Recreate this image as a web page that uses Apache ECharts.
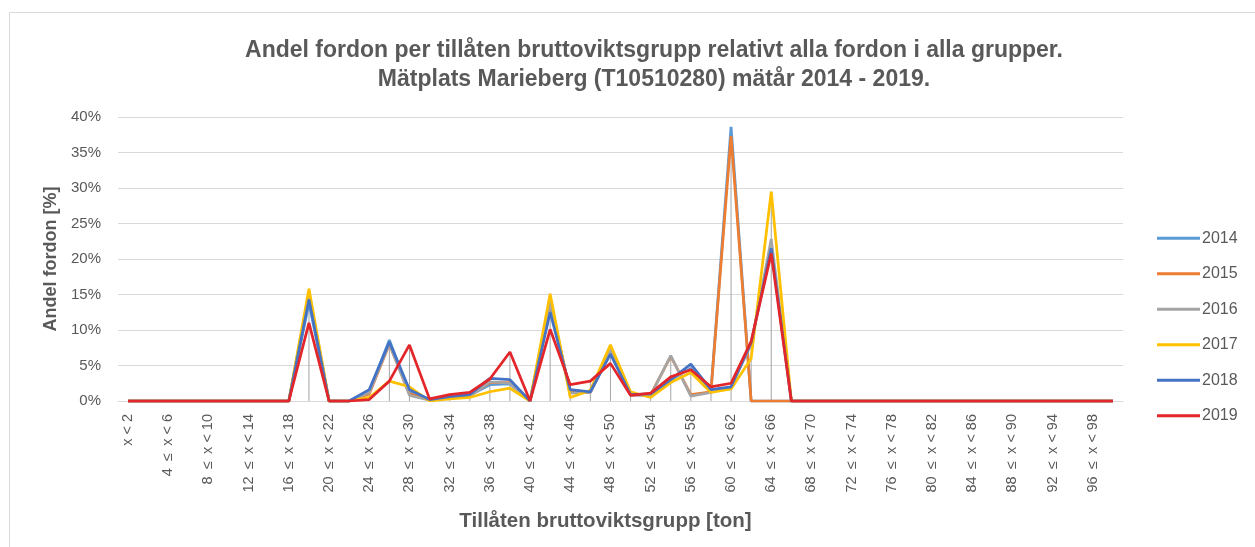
<!DOCTYPE html>
<html lang="sv">
<head>
<meta charset="UTF-8">
<title>Andel fordon per bruttoviktsgrupp</title>
<script src="https://cdn.jsdelivr.net/npm/echarts@6/dist/echarts.min.js"></script>
<style>
  html, body { margin: 0; padding: 0; background: #fff; }
  #chart { width: 1255px; height: 547px; }
</style>
</head>
<body>
<div id="chart"></div>
<script>
// kategorier: x < 2, 2 ≤ x < 4, ... 98 ≤ x < 100
var categories = ['x < 2'];
for (var lo = 2; lo < 100; lo += 2) categories.push(lo + ' ≤ x < ' + (lo + 2));

var years = ['2014', '2015', '2016', '2017', '2018', '2019'];
var colors = ['#5b9bd5', '#ed7d31', '#a5a5a5', '#ffc000', '#4472c4', '#e3262a'];

// andel [%] per kategori, index 0..32 (resten är 0)
var v2014 = [0,0,0,0,0,0,0,0,0, 13.8,0,0,1.3,8.6,1.2,0.2,0.6,0.8,2.3,2.4,0, 12.9,1.5,1.2,6.8,0.9,0.9,3.0,4.6,1.4,38.6,0,0];
var v2015 = [0,0,0,0,0,0,0,0,0, 14.8,0,0,1.0,8.0,1.0,0.2,0.6,0.8,2.6,2.6,0, 13.8,1.2,1.2,7.0,0.9,0.9,6.3,0.9,1.3,37.3,0,0];
var v2016 = [0,0,0,0,0,0,0,0,0, 15.2,0,0,1.2,8.1,0.8,0.1,0.5,0.7,2.7,2.5,0, 13.9,1.1,1.2,7.2,0.8,0.8,6.4,0.7,1.2,2.0,8.0,22.8];
var v2017 = [0,0,0,0,0,0,0,0,0, 15.8,0,0,0.5,2.8,2.0,0.0,0.3,0.5,1.3,1.8,0, 15.1,0.5,1.5,7.9,1.3,0.5,2.6,4.0,1.2,1.7,6.0,29.5];
var v2018 = [0,0,0,0,0,0,0,0,0, 14.3,0,0,1.6,8.3,1.6,0.2,0.6,0.9,3.2,3.0,0, 12.5,1.6,1.3,6.6,0.9,1.0,3.0,5.2,1.6,2.0,8.2,21.5];
var v2019 = [0,0,0,0,0,0,0,0,0, 11.0,0,0,0.2,2.8,7.9,0.3,0.9,1.2,3.1,6.9,0, 10.1,2.3,2.8,5.3,0.8,1.1,3.4,4.4,2.0,2.5,8.4,20.8];

var yTicks = { min: 0, max: 40, interval: 5 };

function fill(arr) {
  var out = arr.slice();
  while (out.length < categories.length) out.push(0);
  return out;
}
var values = [v2014, v2015, v2016, v2017, v2018, v2019].map(fill);

// fallinjer: från högsta värdet ner till axeln
var dropLines = categories.map(function (c, i) {
  return Math.max.apply(null, values.map(function (s) { return s[i]; }));
});

var textColor = '#595959';
var font = 'Liberation Sans';

var series = [{
  name: 'drop',
  type: 'bar',
  data: dropLines,
  barWidth: 1,
  silent: true,
  z: 1,
  itemStyle: { color: '#a5a5a5' }
}];
years.forEach(function (y, k) {
  series.push({
    name: y,
    type: 'line',
    data: values[k],
    symbol: 'none',
    z: 2 + k,
    lineStyle: { width: 2.75, color: colors[k] },
    itemStyle: { color: colors[k] }
  });
});

var chart = echarts.init(document.getElementById('chart'));
chart.setOption({
  animation: false,
  textStyle: { fontFamily: font },
  graphic: [{
    type: 'rect',
    shape: { x: 9.5, y: 12.5, width: 1400, height: 700 },
    style: { fill: null, stroke: '#d9d9d9', lineWidth: 1 },
    silent: true
  }],
  title: {
    text: 'Andel fordon per tillåten bruttoviktsgrupp relativt alla fordon i alla grupper.\nMätplats Marieberg (T10510280) mätår 2014 - 2019.',
    left: 649,
    textAlign: 'center',
    top: 31,
    textStyle: { fontFamily: font, fontSize: 23, fontWeight: 'bold', color: textColor, lineHeight: 29 }
  },
  legend: {
    data: years,
    orient: 'vertical',
    left: 1152,
    top: 224,
    icon: 'rect',
    itemWidth: 43,
    itemHeight: 3,
    itemGap: 17,
    textStyle: { fontFamily: font, fontSize: 16, color: textColor, padding: [0, 0, 0, -3], lineHeight: 18.5 }
  },
  grid: { left: 118, right: 132, top: 117, bottom: 146 },
  xAxis: {
    type: 'category',
    data: categories,
    boundaryGap: true,
    axisTick: { show: false },
    axisLine: { lineStyle: { color: '#d9d9d9' } },
    axisLabel: {
      interval: 1, rotate: 90, margin: 13, fontSize: 14.5, color: textColor, fontFamily: font,
      formatter: function (s) { return s.replace(' ≤ ', '\u2002≤\u2002'); }
    },
    name: 'Tillåten bruttoviktsgrupp [ton]',
    nameLocation: 'middle',
    nameGap: 110,
    nameTextStyle: { fontFamily: font, fontSize: 20.5, fontWeight: 'bold', color: textColor, padding: [0, 30, 0, 0] }
  },
  yAxis: {
    type: 'value',
    min: yTicks.min,
    max: yTicks.max,
    interval: yTicks.interval,
    axisLabel: { formatter: '{value}%', fontSize: 15, color: textColor, margin: 17, fontFamily: font },
    splitLine: { lineStyle: { color: '#d9d9d9' } },
    axisLine: { show: false },
    axisTick: { show: false },
    name: 'Andel fordon [%]',
    nameLocation: 'middle',
    nameGap: 57,
    nameTextStyle: { fontFamily: font, fontSize: 18, fontWeight: 'bold', color: textColor }
  },
  series: series
});
</script>
</body>
</html>
